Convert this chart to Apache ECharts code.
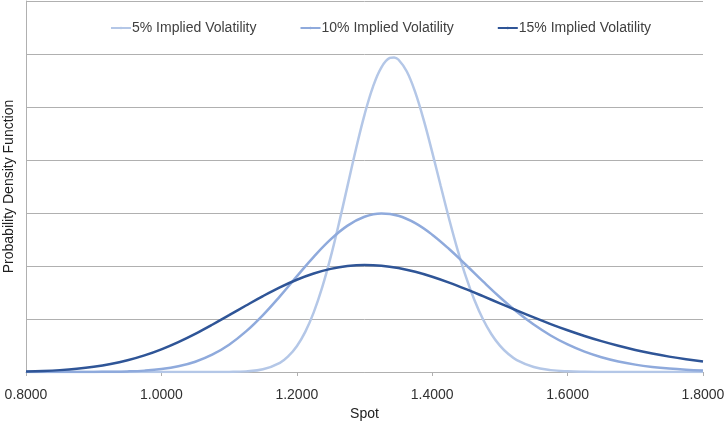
<!DOCTYPE html>
<html>
<head>
<meta charset="utf-8">
<script src="https://cdn.jsdelivr.net/npm/echarts@6/dist/echarts.min.js"></script>
<style>
html,body{margin:0;padding:0;background:#fff;}
#chart{width:725px;height:424px;}
</style>
</head>
<body>
<div id="chart"></div>
<script>
// Spot values (x axis) for the 10% and 15% curves
var spot = [0.800,0.825,0.850,0.875,0.900,0.925,0.950,0.975,1.000,1.025,1.050,1.075,1.100,1.125,1.150,1.175,1.200,1.225,1.250,1.275,1.300,1.325,1.350,1.375,1.400,1.425,1.450,1.475,1.500,1.525,1.550,1.575,1.600,1.625,1.650,1.675,1.700,1.725,1.750,1.775,1.800];

// Spot values for the narrow 5% curve (denser around the peak)
var spot5 = [0.800,0.900,1.000,1.050,1.075,1.100,1.125,1.150,1.175,1.1875,1.200,1.2125,1.225,1.2375,1.250,1.2625,1.275,1.2875,1.300,1.3125,1.325,1.3375,1.34375,1.350,1.3625,1.375,1.3875,1.400,1.4125,1.425,1.4375,1.450,1.4625,1.475,1.4875,1.500,1.5125,1.525,1.550,1.575,1.600,1.625,1.650,1.675,1.700,1.800];

var vol5 = [0,0,0,0,0.0003,0.0022,0.0118,0.0506,0.1741,0.2985,0.4874,0.7581,1.1256,1.5967,2.1673,2.8186,3.5169,4.2127,4.8528,5.3808,5.7491,5.9251,5.9360,5.8960,5.6704,5.2759,4.7526,4.1493,3.5132,2.8877,2.3061,1.7903,1.3524,0.9942,0.7127,0.4977,0.3393,0.2258,0.0932,0.0352,0.0122,0.0039,0.0012,0.0003,0.0001,0];

var vol10 = [0,0.00004,0.00015,0.0005,0.0016,0.0045,0.0112,0.0259,0.0547,0.1067,0.1932,0.3260,0.5151,0.7656,1.0742,1.4281,1.8042,2.1733,2.5024,2.7622,2.9292,2.9911,2.9474,2.8081,2.5913,2.3202,2.0189,1.7097,1.4111,1.1368,0.8948,0.6888,0.5194,0.3840,0.2786,0.1985,0.1390,0.0958,0.0650,0.0434,0.0286];

var vol15 = [0.0103,0.0197,0.0354,0.0601,0.0972,0.1499,0.2214,0.3138,0.4285,0.5649,0.7206,0.8916,1.0719,1.2546,1.4320,1.5963,1.7402,1.8582,1.9454,1.9994,2.0192,2.0061,1.9622,1.8913,1.7977,1.6865,1.5626,1.4307,1.2954,1.1607,1.0295,0.9044,0.7874,0.6796,0.5818,0.4942,0.4167,0.3489,0.2901,0.2397,0.1969];

var seriesNames = ['5% Implied Volatility','10% Implied Volatility','15% Implied Volatility'];
var xTicks = {min:0.8, max:1.8, interval:0.2};
var yTicks = {min:0, max:7, interval:1};

function pairs(xs, arr){ return xs.map(function(x,i){ return [x, arr[i]]; }); }

var colors = ['#b4c7e7','#8faadc','#2f5597'];
var FONT = '"Liberation Sans", Arial, sans-serif';

var chart = echarts.init(document.getElementById('chart'), null, {renderer:'canvas'});
chart.setOption({
  animation:false,
  color: colors,
  grid:{left:26, right:22, top:1, bottom:52, outerBoundsMode:'none', containLabel:false},
  legend:{
    top:21, left:110, padding:0,
    itemWidth:20, itemHeight:3, itemGap:43,
    textStyle:{fontFamily:FONT, fontSize:14, color:'#404040', padding:[0,0,0,-4]},
    data: seriesNames
  },
  xAxis:{
    type:'value', min:xTicks.min, max:xTicks.max, interval:xTicks.interval,
    name:'Spot', nameLocation:'middle', nameGap:34,
    nameTextStyle:{fontFamily:FONT, fontSize:14, color:'#202020'},
    axisLine:{show:true, onZero:false, lineStyle:{color:'#b0b0b0', width:1}},
    axisTick:{show:true, length:4, lineStyle:{color:'#b0b0b0'}},
    axisLabel:{fontFamily:FONT, fontSize:14, color:'#303030', margin:16,
      formatter:function(v){ return v.toFixed(4); }},
    splitLine:{show:false}
  },
  yAxis:{
    type:'value', min:yTicks.min, max:yTicks.max, interval:yTicks.interval,
    name:'Probability Density Function', nameLocation:'middle', nameGap:10,
    nameRotate:90,
    nameTextStyle:{fontFamily:FONT, fontSize:14, color:'#202020'},
    axisLine:{show:true, lineStyle:{color:'#b0b0b0', width:1}},
    axisTick:{show:false},
    axisLabel:{show:false},
    splitLine:{show:true, lineStyle:{color:'#b0b0b0', width:1}}
  },
  series:[
    {name:seriesNames[0], type:'line', data:pairs(spot5, vol5), smooth:0.4, symbol:'none', showSymbol:false, lineStyle:{width:2.5, color:colors[0]}, z:3},
    {name:seriesNames[1], type:'line', data:pairs(spot, vol10), smooth:0.4, symbol:'none', showSymbol:false, lineStyle:{width:2.5, color:colors[1]}, z:4},
    {name:seriesNames[2], type:'line', data:pairs(spot, vol15), smooth:0.4, symbol:'none', showSymbol:false, lineStyle:{width:2.5, color:colors[2]}, z:5}
  ]
});
</script>
</body>
</html>
